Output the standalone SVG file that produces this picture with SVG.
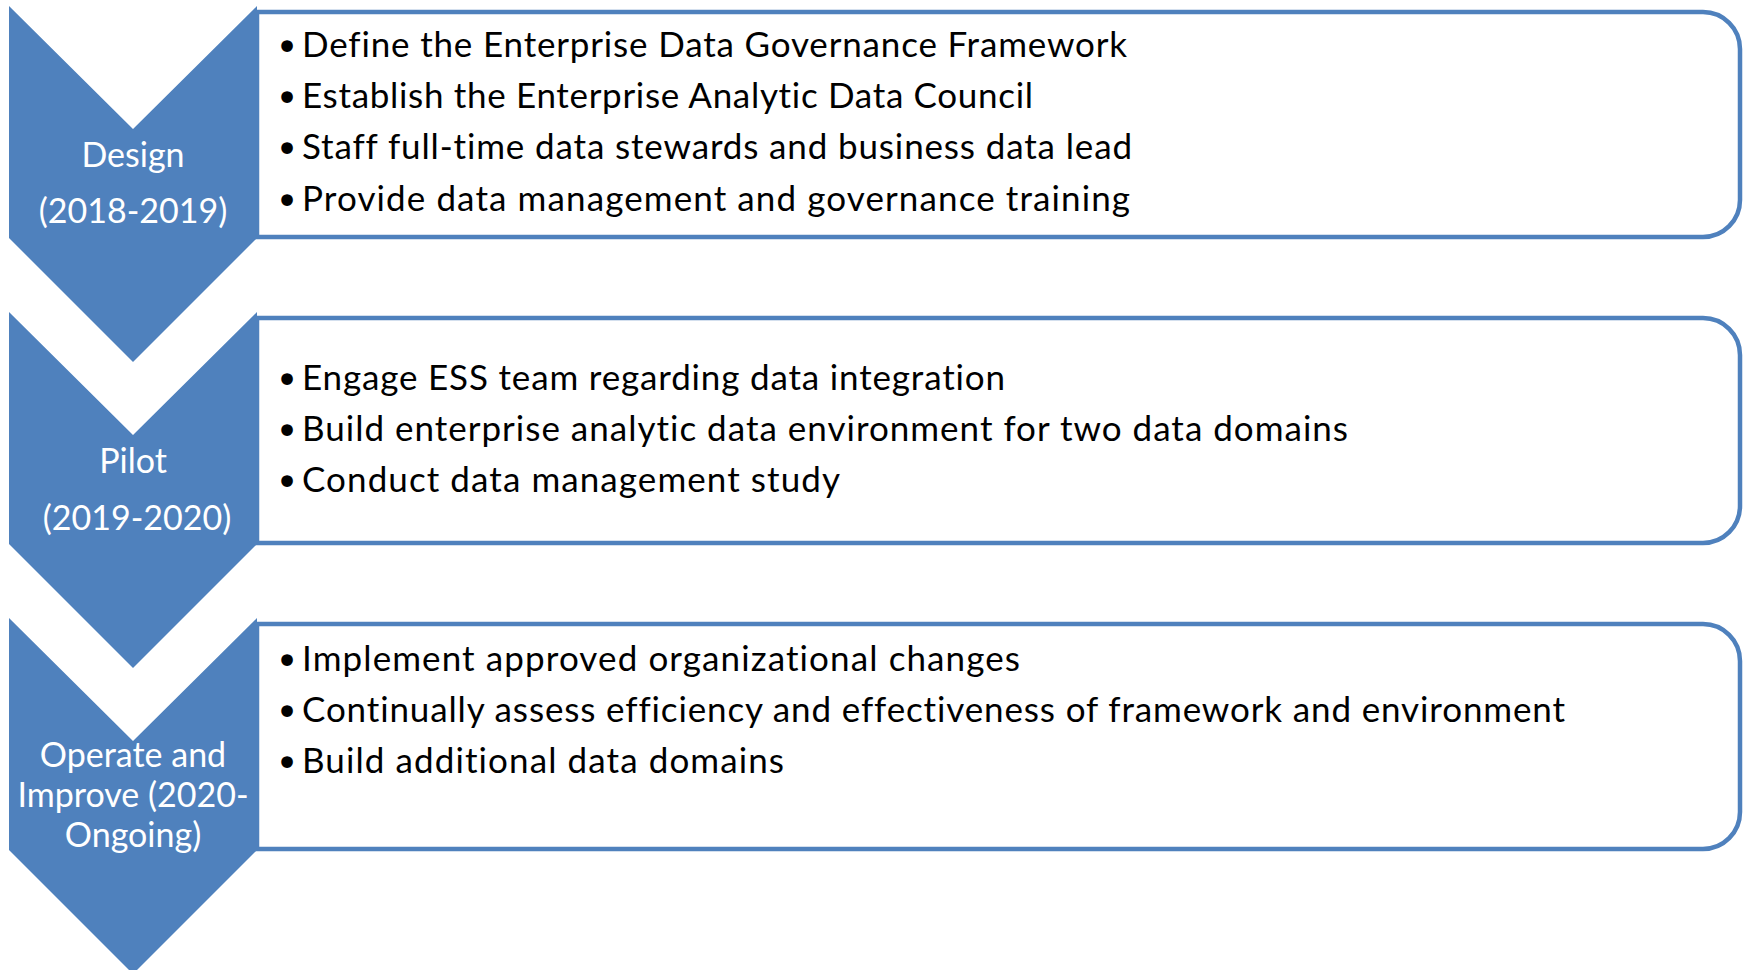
<svg xmlns="http://www.w3.org/2000/svg" width="1744" height="970" viewBox="0 0 1744 970">
<style>
.box{fill:#ffffff;stroke:#4F81BD;stroke-width:4.5}
.chev{fill:#4F81BD}
.lbl{font-family:Lato,"Open Sans",sans-serif;font-size:34px;fill:#ffffff;text-anchor:middle;font-variant-ligatures:none}
.item{font-family:Lato,"Open Sans",sans-serif;font-size:35px;fill:#000000;font-variant-ligatures:none}
.bul{font-family:"DejaVu Sans",sans-serif;font-size:40px;fill:#000000;text-anchor:middle}
</style>
<rect width="1744" height="970" fill="#ffffff"/>
<g id="phase-design">
<path class="box" d="M257,12 H1703 A37,37 0 0 1 1740,49 V200 A37,37 0 0 1 1703,237 H257 Z"/>
<polygon class="chev" points="9,6 133,129 257,6 257,238 133,362 9,238"/>
<text class="lbl" x="133" y="167">Design</text>
<text class="lbl" x="133" y="223">(2018-2019)</text>
<text class="bul" x="287" y="61">•</text>
<text class="item" x="302" y="57" textLength="825" lengthAdjust="spacing">Define the Enterprise Data Governance Framework</text>
<text class="bul" x="287" y="112">•</text>
<text class="item" x="302" y="108" textLength="731" lengthAdjust="spacing">Establish the Enterprise Analytic Data Council</text>
<text class="bul" x="287" y="163">•</text>
<text class="item" x="302" y="159" textLength="830" lengthAdjust="spacing">Staff full-time data stewards and business data lead</text>
<text class="bul" x="287" y="215">•</text>
<text class="item" x="302" y="211" textLength="828" lengthAdjust="spacing">Provide data management and governance training</text>
</g>
<g id="phase-pilot">
<path class="box" d="M257,318 H1703 A37,37 0 0 1 1740,355 V506 A37,37 0 0 1 1703,543 H257 Z"/>
<polygon class="chev" points="9,312 133,435 257,312 257,544 133,668 9,544"/>
<text class="lbl" x="133" y="473">Pilot</text>
<text class="lbl" x="137" y="530">(2019-2020)</text>
<text class="bul" x="287" y="394">•</text>
<text class="item" x="302" y="390" textLength="703" lengthAdjust="spacing">Engage ESS team regarding data integration</text>
<text class="bul" x="287" y="445">•</text>
<text class="item" x="302" y="441" textLength="1046" lengthAdjust="spacing">Build enterprise analytic data environment for two data domains</text>
<text class="bul" x="287" y="496">•</text>
<text class="item" x="302" y="492" textLength="538" lengthAdjust="spacing">Conduct data management study</text>
</g>
<g id="phase-operate">
<path class="box" d="M257,624 H1703 A37,37 0 0 1 1740,661 V812 A37,37 0 0 1 1703,849 H257 Z"/>
<polygon class="chev" points="9,618 133,741 257,618 257,850 133,974 9,850"/>
<text class="lbl" x="133" y="767">Operate and</text>
<text class="lbl" x="133" y="807">Improve (2020-</text>
<text class="lbl" x="133" y="847">Ongoing)</text>
<text class="bul" x="287" y="675">•</text>
<text class="item" x="302" y="671" textLength="718" lengthAdjust="spacing">Implement approved organizational changes</text>
<text class="bul" x="287" y="726">•</text>
<text class="item" x="302" y="722" textLength="1263" lengthAdjust="spacing">Continually assess efficiency and effectiveness of framework and environment</text>
<text class="bul" x="287" y="777">•</text>
<text class="item" x="302" y="773" textLength="482" lengthAdjust="spacing">Build additional data domains</text>
</g>
</svg>
